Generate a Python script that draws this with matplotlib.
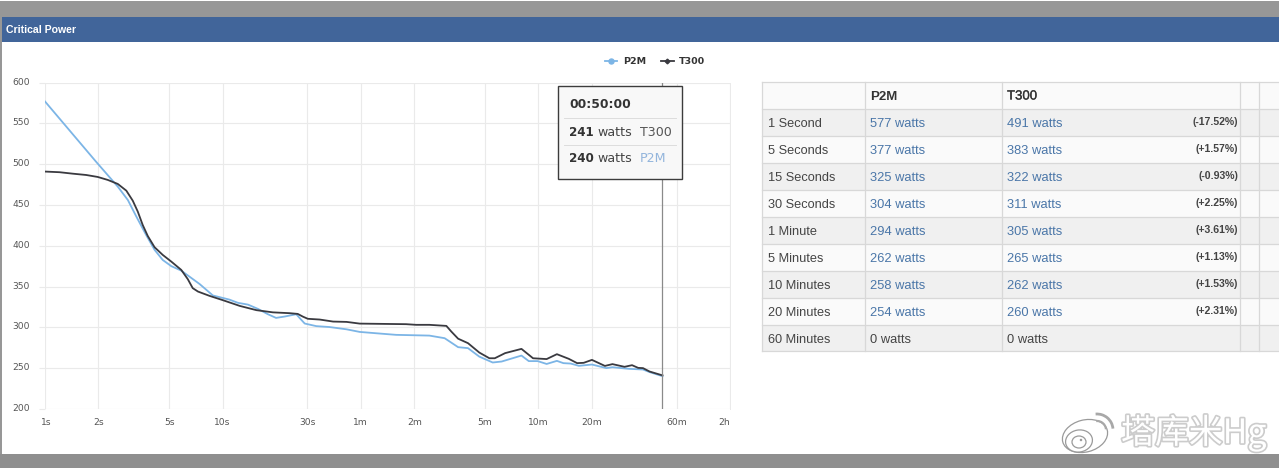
import matplotlib
matplotlib.use('Agg')
import matplotlib.pyplot as plt
import matplotlib.patheffects as pe
from matplotlib.lines import Line2D
from matplotlib.patches import Rectangle, Ellipse, Arc
from matplotlib.transforms import ScaledTranslation

# curve data, seconds / watts
p2m_t = [1, 1.94, 2.57, 2.93, 3.27, 3.71, 4.14, 4.6, 5.14, 5.85, 7.43, 8.82, 10.9, 12.2, 13.9, 15.8, 18, 20, 22.4,
         26, 27.2, 29, 33.7, 40, 49.9, 59.2, 76.8, 95, 146, 178, 190, 212, 241, 279, 332, 373, 482, 530, 595, 668,
         763, 830, 912, 1015, 1202, 1450, 1568, 1950, 2330, 2540, 3000]
p2m_w = [577, 503, 472.5, 456, 435.7, 413.3, 395, 382.6, 375, 369.5, 353, 339, 334, 330, 327.8, 322.6, 316, 311.5, 313.2,
         316, 311.2, 304.6, 301.4, 300.3, 297.5, 294.3, 292.3, 290.7, 289.8, 286.6, 282.5, 275.6, 274.4, 264, 256.8, 258,
         265.3, 258.5, 258.5, 255, 258.8, 256, 255.5, 252.7, 254.3, 249.9, 251, 249, 248.2, 245, 240]
t300_t = [1, 1.207, 1.435, 1.706, 1.98, 2.26, 2.57, 2.87, 3.12, 3.33, 3.55, 3.79, 4.14, 4.6, 5.14, 5.85, 6.37, 6.79,
          7.27, 8.45, 10.05, 12.5, 15.5, 19.2, 23.8, 26.5, 28.3, 30.2, 35.2, 41.9, 49.9, 59.2, 76.8, 108, 123, 146,
          182, 194, 212, 241, 279, 318, 341, 390, 482, 560, 668, 763, 890, 992, 1080, 1202, 1422, 1568, 1834, 2022,
          2188, 2330, 2540, 3000]
t300_w = [491, 490.2, 488.4, 486.8, 484.4, 480.7, 475.8, 467.6, 455.3, 441.9, 425.5, 412, 398.2, 388.8, 380.6, 370.4, 359, 348,
          343.8, 338.5, 333.2, 326.2, 321, 318.3, 317.3, 316.4, 313.1, 310.4, 309.5, 307, 306.6, 304.5, 304.2, 303.8, 303, 303,
          301.7, 294.8, 286, 280.5, 269, 262, 262, 268.3, 273.5, 262, 261, 267, 261.3, 256, 256.4, 260, 252.6, 254.8, 251.5, 253.5,
          250.2, 249.9, 245.7, 241]

x_ticks = [1, 2, 5, 10, 30, 60, 120, 300, 600, 1200, 3600, 7200]
x_labels = ['1s', '2s', '5s', '10s', '30s', '1m', '2m', '5m', '10m', '20m', '60m', '2h']
y_ticks = [200, 250, 300, 350, 400, 450, 500, 550, 600]

cursor_t = 3000
tip_time = '00:50:00'
tip_rows = [('241', 'T300'), ('240', 'P2M')]

row_names = ['1 Second', '5 Seconds', '15 Seconds', '30 Seconds', '1 Minute', '5 Minutes',
             '10 Minutes', '20 Minutes', '60 Minutes']
p2m_vals = [577, 377, 325, 304, 294, 262, 258, 254, 0]
t300_vals = [491, 383, 322, 311, 305, 265, 262, 260, 0]
pct_vals = ['(-17.52%)', '(+1.57%)', '(-0.93%)', '(+2.25%)', '(+3.61%)', '(+1.13%)', '(+1.53%)', '(+2.31%)', '']

W, H = 1279, 468
BLUE = '#7cb5e6'
DARK = '#3a3a40'
LINK = '#4a76a8'
GRID = '#eaeaea'
TXT = '#555555'

fig = plt.figure(figsize=(W / 100, H / 100), dpi=100, facecolor='white')


def px_axes(z):
    a = fig.add_axes([0, 0, 1, 1], zorder=z)
    a.set_xlim(0, W)
    a.set_ylim(H, 0)
    a.axis('off')
    a.patch.set_alpha(0)
    return a


bg = px_axes(0)
top = px_axes(2)

# page frame
bg.add_patch(Rectangle((0, 1), W, 16, fc='#979797', lw=0))
bg.add_patch(Rectangle((0, 454), W, 14, fc='#8f8f8f', lw=0))
bg.add_patch(Rectangle((0, 17), 2, 437, fc='#979797', lw=0))
bg.add_patch(Rectangle((2, 17), W, 25, fc='#41659a', lw=0))
bg.text(5.5, 30, 'Critical Power', color='white', fontsize=7.6, fontweight='bold',
        family='Liberation Sans', va='center', ha='left')

# chart
ax = fig.add_axes([45 / W, 1 - 408.8 / H, (730 - 45) / W, (408.8 - 82.7) / H], zorder=1)
ax.patch.set_alpha(0)
ax.set_xscale('log')
ax.set_xlim(1, 7200)
ax.set_ylim(200, 600)
for s in ['top', 'left', 'bottom']:
    ax.spines[s].set_visible(False)
ax.spines['right'].set_color(GRID)
ax.spines['right'].set_linewidth(0.7)
ax.set_xticks(x_ticks)
ax.set_xticklabels(x_labels)
ax.minorticks_off()
ax.set_yticks(y_ticks)
ax.grid(True, color=GRID, lw=0.8)
ax.set_axisbelow(True)
ax.tick_params(axis='x', length=0, pad=6.5, labelsize=6.6, labelcolor=TXT)
ax.tick_params(axis='y', length=4, width=0.8, color=GRID, pad=7, labelsize=6.6, labelcolor=TXT)
up = ScaledTranslation(0, 1.5 / 100, fig.dpi_scale_trans)
for lab in ax.get_yticklabels():
    lab.set_transform(lab.get_transform() + up)
# the last x label is pushed left in the original so it stays inside the frame
last = ax.get_xticklabels()[-1]
last.set_transform(last.get_transform() + ScaledTranslation(-6 / 100, 0, fig.dpi_scale_trans))
first = ax.get_xticklabels()[0]
first.set_transform(first.get_transform() + ScaledTranslation(1 / 100, 0, fig.dpi_scale_trans))

ax.plot(p2m_t, p2m_w, color=BLUE, lw=1.3, solid_joinstyle='round')
ax.plot(t300_t, t300_w, color=DARK, lw=1.3, solid_joinstyle='round')
ax.axvline(cursor_t, color='#8a8a8a', lw=0.9)

# legend
handles = [Line2D([], [], color=BLUE, lw=1.3, marker='o', ms=3.6, label='P2M'),
           Line2D([], [], color=DARK, lw=1.3, marker='D', ms=2.4, label='T300')]
top.legend(handles=handles, ncol=2, frameon=False, loc='center', bbox_to_anchor=(655, 61.5),
           bbox_transform=top.transData, prop={'size': 6.8, 'weight': 'bold'},
           handlelength=1.35, handletextpad=0.6, columnspacing=1.55, labelcolor='#333333',
           borderpad=0)

# tooltip
top.add_patch(Rectangle((558, 86), 124, 93, fc='#f8f8f8', ec='#3c3c3c', lw=1))
top.text(569, 105, tip_time, fontsize=8.8, fontweight='bold', color='#333333', va='center')
for i, (val, name) in enumerate(tip_rows):
    yy = 132 + i * 27
    top.plot([564, 676], [yy - 14, yy - 14], color='#dddddd', lw=0.7)
    top.text(569, yy, val, fontsize=8.6, fontweight='bold', color='#333333', va='center')
    top.text(597, yy, 'watts', fontsize=9.1, color='#444444', va='center')
    top.text(640, yy, name, fontsize=9.1, va='center', color='#555555' if name == 'T300' else '#93b5dc')

# table
col_x = [762.3, 865, 1002, 1240, 1259.3, W]
row_h = 27
tbl_top = 82.3
LS = 'Liberation Sans'
for i in range(len(row_names) + 1):
    y0 = tbl_top + i * row_h
    shade = '#f0f0f0' if i % 2 == 1 else '#fafafa'
    bg.add_patch(Rectangle((col_x[0], y0), W - col_x[0], row_h, fc=shade, lw=0))
    bg.plot([col_x[0], W], [y0, y0], color='#d8d8d8', lw=0.9)
tbl_bot = tbl_top + (len(row_names) + 1) * row_h - 1
bg.plot([col_x[0], W], [tbl_bot, tbl_bot], color='#d8d8d8', lw=0.9)
for c in col_x[:-1]:
    bg.plot([c, c], [tbl_top, tbl_bot], color='#d8d8d8', lw=0.9)

bg.text(870, 96.5, 'P2M', fontsize=9.5, fontweight='bold', family=LS, color='#333333', va='center')
bg.text(1007, 96.5, 'T300', fontsize=9.5, family=LS, color='#333333', va='center',
        path_effects=[pe.withStroke(linewidth=0.2, foreground='#333333')])
for i, name in enumerate(row_names):
    yy = 123.7 + i * row_h
    bg.text(768, yy, name, fontsize=9.2, family=LS, color='#444444', va='center')
    p_col = LINK if p2m_vals[i] else '#444444'
    t_col = LINK if t300_vals[i] else '#444444'
    bg.text(870, yy, f'{p2m_vals[i]} watts', fontsize=9.3, family=LS, color=p_col, va='center')
    bg.text(1007, yy, f'{t300_vals[i]} watts', fontsize=9.3, family=LS, color=t_col, va='center')
    bg.text(1238, yy - 1.5, pct_vals[i], fontsize=7.6, fontweight='bold', family=LS, color='#444444',
            va='center', ha='right')

# watermark
wm = [pe.withStroke(linewidth=2.4, foreground='#cccccc')]
top.text(1121, 433, '塔库米Hg', fontsize=24.4, color='white', va='center', ha='left',
         family=['Noto Sans CJK SC', 'DejaVu Sans'], path_effects=wm)
top.add_patch(Ellipse((1085, 436), 46, 32, angle=-15, fc='white', ec='#9a9a9a', lw=0.9))
top.add_patch(Ellipse((1079, 441), 27, 22, angle=-10, fc='white', ec='#9a9a9a', lw=0.9))
top.add_patch(Ellipse((1079, 442), 14, 12, fc='white', ec='#9a9a9a', lw=0.9))
top.add_patch(Ellipse((1081, 440), 2.5, 2.5, fc='#9a9a9a', lw=0))
top.add_patch(Arc((1097, 430), 32, 32, theta1=-95, theta2=-5, ec='#a8a8a8', lw=2))
top.add_patch(Arc((1097, 430), 18, 18, theta1=-95, theta2=-5, ec='#a8a8a8', lw=1.6))

fig.savefig('out.png', dpi=100)
